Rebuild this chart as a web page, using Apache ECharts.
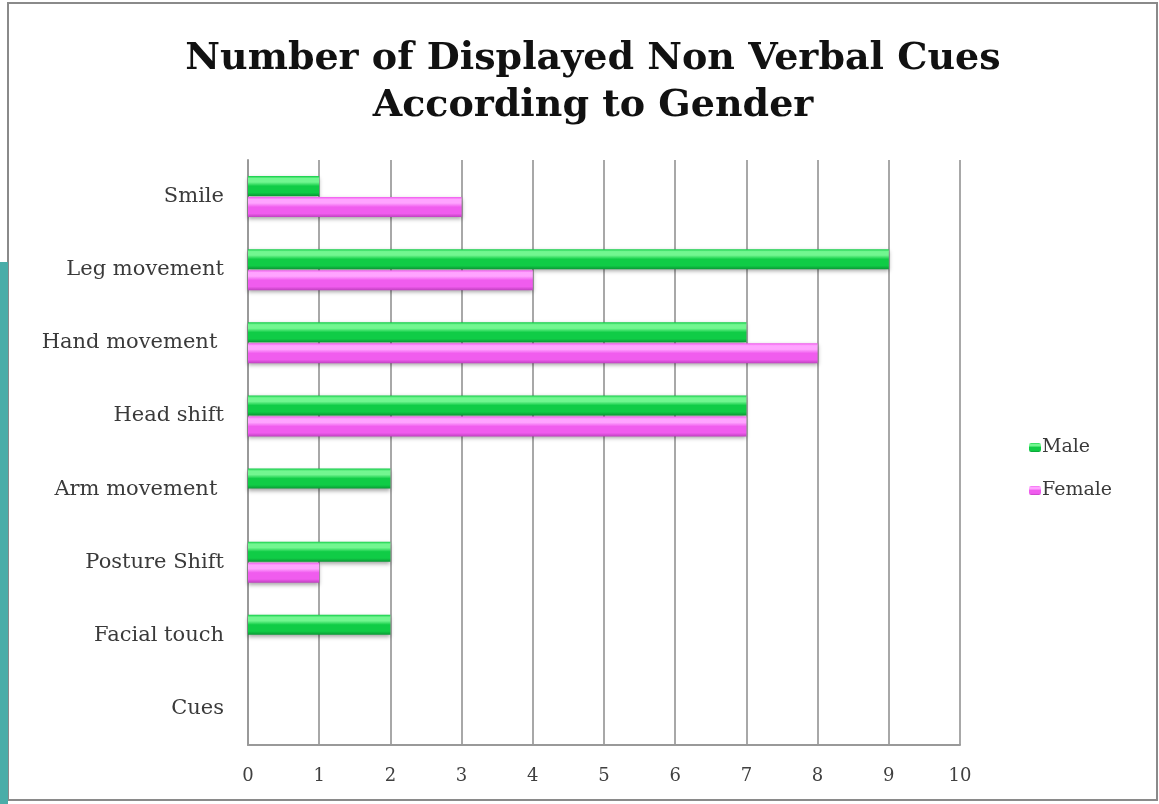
<!DOCTYPE html>
<html><head><meta charset="utf-8">
<script src="https://cdn.jsdelivr.net/npm/echarts@6/dist/echarts.min.js"></script>
<style>html,body{margin:0;padding:0;background:#fff;}#c{width:1159px;height:804px;}</style>
</head><body><div id="c"></div>
<script>
const categories = ['Smile','Leg movement','Hand movement ','Head shift','Arm movement ','Posture Shift','Facial touch','Cues'];
const maleValues = [1, 9, 7, 7, 2, 2, 2, 0];
const femaleValues = [3, 4, 8, 7, 0, 1, 0, 0];
const xTicks = [0,1,2,3,4,5,6,7,8,9,10];
const serif = '"DejaVu Serif", "Liberation Serif", serif';

function grad(top, mid, bot){
  return new echarts.graphic.LinearGradient(0,0,0,1,[
    {offset:0,color:mid},{offset:0.12,color:top},{offset:0.3,color:top},{offset:0.5,color:mid},{offset:0.82,color:mid},{offset:1,color:bot}]);
}
const chart = echarts.init(document.getElementById('c'));
chart.setOption({
  animation:false,
  backgroundColor:'#fff',
  graphic:[
    {type:'rect',shape:{x:8,y:3,width:1149,height:797},style:{fill:'none',stroke:'#8a8a8a',lineWidth:2}},
    {type:'rect',shape:{x:0,y:262,width:8,height:542},style:{fill:'#4aada8'}}
  ],
  title:{
    text:'Number of Displayed Non Verbal Cues\nAccording to Gender',
    top:31, left: 588,
    textAlign:'center',
    textStyle:{fontFamily:serif,fontWeight:'bold',fontSize:38,color:'#111',lineHeight:47}
  },
  legend:{
    orient:'vertical', left:1024, top:433, itemGap:24,
    itemWidth:12, itemHeight:9,
    textStyle:{fontFamily:serif,fontSize:19,color:'#3a3a3a',padding:[0,0,0,-4]},
    data:['Male','Female']
  },
  grid:{left:248,right:199,top:160,bottom:59,containLabel:false},
  xAxis:{
    type:'value',min:0,max:10,interval:1,
    axisLine:{show:true,lineStyle:{color:'#999',width:2}},
    axisTick:{show:false},
    splitLine:{show:true,lineStyle:{color:'#a8a8a8',width:2}},
    axisLabel:{fontFamily:serif,fontSize:18,color:'#404040',margin:22,
      formatter:v=>String(xTicks[v])}
  },
  yAxis:{
    type:'category',data:categories,inverse:true,
    axisLine:{show:true,lineStyle:{color:'#999',width:2}},
    axisTick:{show:false},
    axisLabel:{fontFamily:serif,fontSize:21,color:'#3a3a3a',margin:24}
  },
  series:[
    {name:'Male',type:'bar',data:maleValues,barWidth:20,barGap:'5%',
     itemStyle:{color:grad('#72f690','#10cc46','#0a9a35'),shadowColor:'rgba(0,0,0,0.35)',shadowBlur:4,shadowOffsetY:2}},
    {name:'Female',type:'bar',data:femaleValues,barWidth:20,
     itemStyle:{color:grad('#ffa4ff','#f05cee','#c040c0'),shadowColor:'rgba(0,0,0,0.35)',shadowBlur:4,shadowOffsetY:2}}
  ]
});
</script></body></html>
